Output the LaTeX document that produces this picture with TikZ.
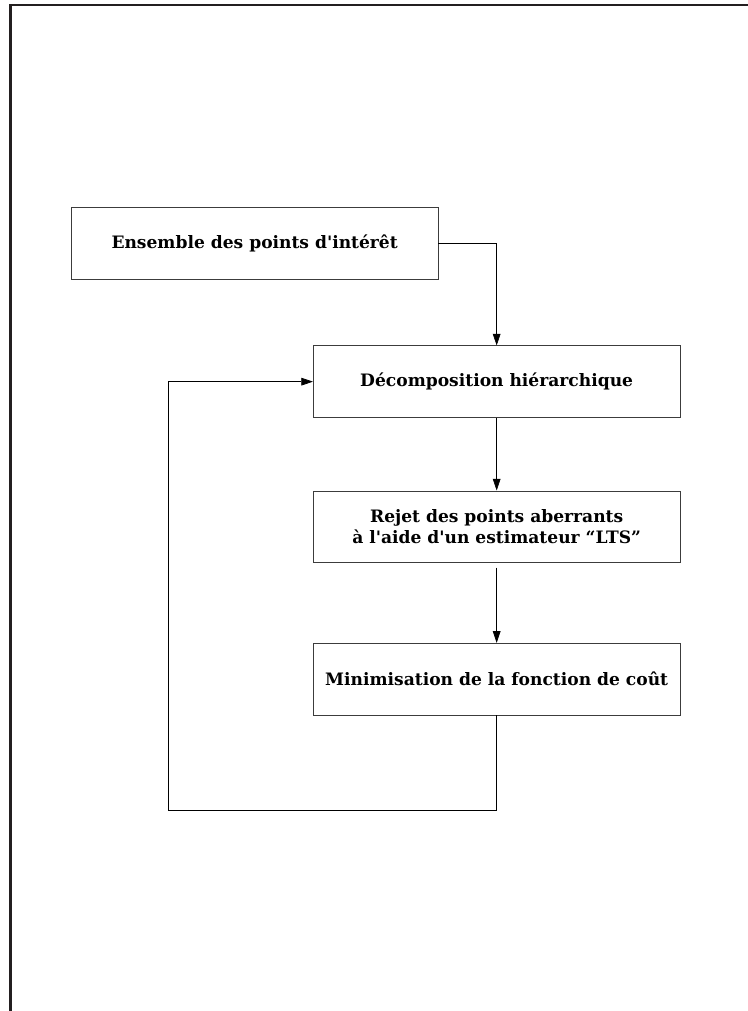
\documentclass[tikz,border=0pt]{standalone}
\usepackage{fontspec}
\newfontfamily\stagefont[Ligatures=TeXOff]{DejaVu Serif}
\usetikzlibrary{arrows.meta,positioning}
\definecolor{FrameInk}{HTML}{231F20}
\definecolor{BoxInk}{HTML}{3C3C3C}
\tikzset{
  stagebox/.style={draw=BoxInk,line width=0.6pt,minimum width=11cm,minimum height=2.15cm,
    align=center,font=\stagefont\bfseries\fontsize{14.6}{18}\selectfont},
  flow/.style={draw=black,line width=0.6pt,-{Triangle[length=3.5mm,width=2.3mm]}}
}

\begin{document}
\begin{tikzpicture}
  \useasboundingbox (0,0) rectangle (22.44,30.33);
  \draw[FrameInk,line width=2.4pt] (0.315,0) -- (0.315,30.18) -- (22.44,30.18);

  \node[stagebox] (points) at (7.64,23.03) {Ensemble des points d'intérêt};
  \node[stagebox] (decomp) at (14.90,18.88) {Décomposition hiérarchique};
  \node[stagebox,below=2.18cm of decomp] (rejet) {Rejet des points aberrants\\ à l'aide d'un estimateur “LTS”};
  \node[stagebox,below=2.4cm of rejet] (minim) {Minimisation de la fonction de coût};
  \coordinate (loopend) at (5.05,6.03);

  \draw[flow] (points.east) -| (decomp.north);
  \draw[flow] (decomp) -- (rejet);
  \draw[flow,shorten <=4pt] (rejet) -- (minim);
  \draw[flow] (minim.south) |- (loopend) |- (decomp.west);
\end{tikzpicture}
\end{document}
